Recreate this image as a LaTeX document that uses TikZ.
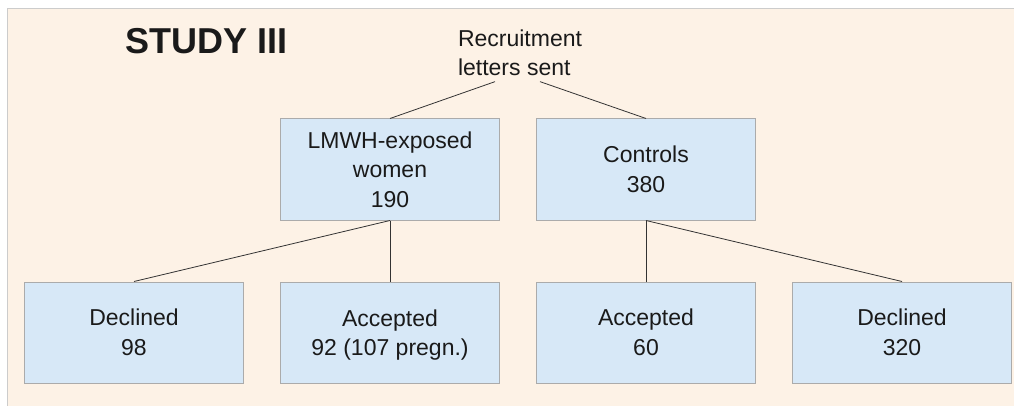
\documentclass[tikz,border=0pt]{standalone}
\usepackage{fontspec}
\setmainfont{Liberation Sans}
\usepackage{tikz}
\usetikzlibrary{positioning}

\definecolor{peach}{HTML}{FDF2E6}
\definecolor{boxblue}{HTML}{D7E8F7}
\definecolor{boxline}{HTML}{ABABAB}
\definecolor{framegrey}{HTML}{CCCCCC}
\definecolor{linkgrey}{HTML}{333333}
\definecolor{textblack}{HTML}{1A1A1A}

\begin{document}
\begin{tikzpicture}[node distance=256pt,
                    box/.style={rectangle,draw=boxline,line width=1pt,fill=boxblue,
                                minimum width=219pt,minimum height=101pt,inner sep=0pt,
                                align=center,text=textblack,
                                font=\fontsize{23}{29.5}\selectfont},
                    link/.style={draw=linkgrey,line width=0.8pt}]

  % page and frame
  \useasboundingbox (0,0) rectangle (1014pt,-406pt);
  \fill[white] (0,0) rectangle (1014pt,-406pt);
  \fill[peach] (8pt,-9pt) rectangle (1014pt,-406pt);
  \draw[framegrey,line width=1.5pt] (7.5pt,-406pt) -- (7.5pt,-8.5pt) -- (1014pt,-8.5pt);

  \node[inner sep=0pt,text=textblack,font=\fontsize{36}{40}\selectfont\bfseries]
        (title) at (206.5pt,-41pt) {STUDY III};
  \node[inner sep=0pt,align=left,text=textblack,font=\fontsize{23}{29}\selectfont]
        (rec) at (520pt,-52.5pt) {Recruitment\\letters sent};

  \node[box] (decA) at (134pt,-332.5pt) {Declined\\98};
  \node[box] (accA) [right of=decA]       {Accepted\\\raisebox{0pt}[\height][0pt]{92 (107 pregn.)}};
  \node[box] (accB) [right of=accA]       {Accepted\\60};
  \node[box] (decB) [right of=accB]       {Declined\\320};
  \node[box] (lmwh) [above=61pt of accA]  {LMWH-exposed\\women\\190};
  \node[box] (ctrl) [above=61pt of accB]  {Controls\\380};

  \path ([shift={(-25pt,-6pt)}]rec.south) edge[link] (lmwh.north)
        ([shift={(20pt,-6pt)}]rec.south)  edge[link] (ctrl.north)
        (lmwh.south) edge[link] (decA.north)
                     edge[link] (accA.north)
        (ctrl.south) edge[link] (accB.north)
                     edge[link] (decB.north);
\end{tikzpicture}
\end{document}
